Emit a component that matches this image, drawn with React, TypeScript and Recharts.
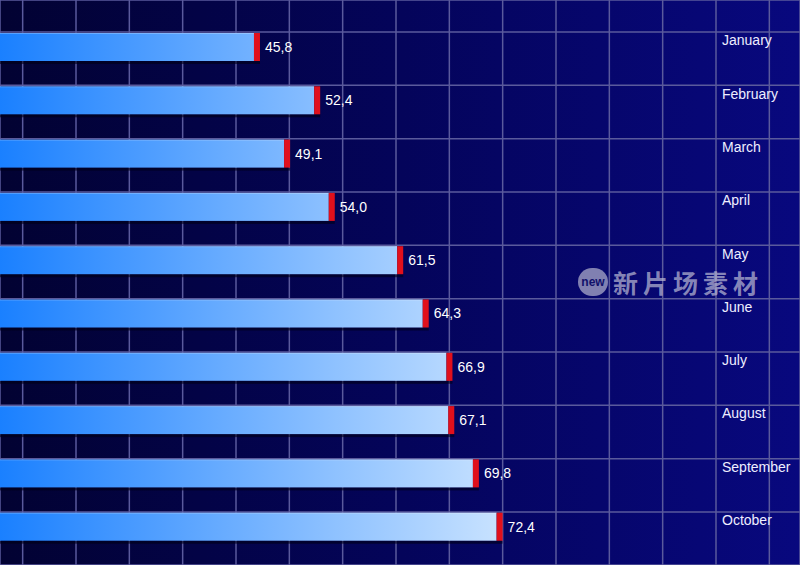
import React from 'react';
import {
  BarChart, Bar, XAxis, YAxis, CartesianGrid, LabelList,
} from 'recharts';

// months and their values, top to bottom
const months = ['January', 'February', 'March', 'April', 'May', 'June', 'July', 'August', 'September', 'October'];
const values = [45.8, 52.4, 49.1, 54.0, 61.5, 64.3, 66.9, 67.1, 69.8, 72.4];

// background grid columns / rows
const gridCols = [0, 1, 2, 3, 4, 5, 6, 7, 8, 9, 10, 11, 12, 13, 14];
const gridRows = [0, 1, 2, 3, 4, 5, 6, 7, 8, 9];

const data = months.map((m, i) => ({ month: m, value: values[i] }));

const FONT = '"Liberation Sans", Arial, sans-serif';

// bar with gradient body and red cap at the end
const CappedBar = (props: any) => {
  const { x, y, width, height } = props;
  if (!width || width <= 0) return null;
  const cap = 6;
  return (
    <g>
      <rect x={x} y={y + height} width={width} height={3} fill="#000018" opacity={0.6} />
      <rect x={x} y={y} width={width - cap} height={height} fill="url(#barGrad)" />
      <rect x={x} y={y} width={width - cap} height={1} fill="#ffffff" opacity={0.25} />
      <rect x={x + width - cap} y={y} width={cap} height={height} fill="#e0101c" />
    </g>
  );
};

const monthTick = (props: any) => {
  const { x, y, payload } = props;
  return (
    <text x={x - 86} y={y - 5} fill="#eeeeff" fontSize={14} fontFamily={FONT} textAnchor="start" dominantBaseline="middle">
      {payload.value}
    </text>
  );
};

export default function App() {
  return (
    <div style={{ position: 'absolute', left: 0, top: 0, width: 800, height: 565, overflow: 'hidden',
      background: 'linear-gradient(to right, #020232 0%, #04045a 50%, #08087e 100%)' }}>
      <BarChart
        width={800}
        height={565}
        data={data}
        layout="vertical"
        margin={{ top: 0, right: -80, bottom: 0, left: 0 }}
      >
        <defs>
          <linearGradient id="barGrad" x1="0" y1="0" x2="500" y2="0" gradientUnits="userSpaceOnUse">
            <stop offset="0%" stopColor="#1a80ff" />
            <stop offset="100%" stopColor="#c8e2ff" />
          </linearGradient>
        </defs>
        <XAxis xAxisId="grid" type="number" domain={[-0.425, 14.575]} ticks={gridCols} allowDataOverflow hide />
        <YAxis yAxisId="grid" type="number" ticks={gridRows} padding={{ top: 32, bottom: 53 }} hide />
        <CartesianGrid xAxisId="grid" yAxisId="grid" stroke="#5a5a9c" strokeWidth={1.5} />
        <XAxis type="number" domain={[17.3, 105]} allowDataOverflow hide />
        <YAxis
          type="category"
          dataKey="month"
          orientation="right"
          width={80}
          axisLine={false}
          tickLine={false}
          interval={0}
          padding={{ top: 20, bottom: 12 }}
          tick={monthTick}
        />
        <Bar dataKey="value" barSize={28} shape={<CappedBar />} isAnimationActive={false}>
          <LabelList
            dataKey="value"
            position="right"
            offset={5}
            fill="#ffffff"
            fontSize={14}
            fontFamily={FONT}
            formatter={(v: any) => Number(v).toFixed(1).replace('.', ',')}
          />
        </Bar>
      </BarChart>
      {/* stock watermark */}
      <div style={{ position: 'absolute', left: 578, top: 268, width: 30, height: 28, borderRadius: 14,
        background: 'rgba(170,170,200,0.75)', color: '#10106a', fontFamily: FONT, fontWeight: 'bold',
        fontSize: 12, lineHeight: '28px', textAlign: 'center' }}>new</div>
      <div style={{ position: 'absolute', left: 613, top: 269, fontFamily: '"Noto Sans CJK SC", sans-serif',
        fontSize: 25, lineHeight: '26px', letterSpacing: 5, color: 'rgba(190,190,215,0.7)', fontWeight: 'bold' }}>新片场素材</div>
    </div>
  );
}
